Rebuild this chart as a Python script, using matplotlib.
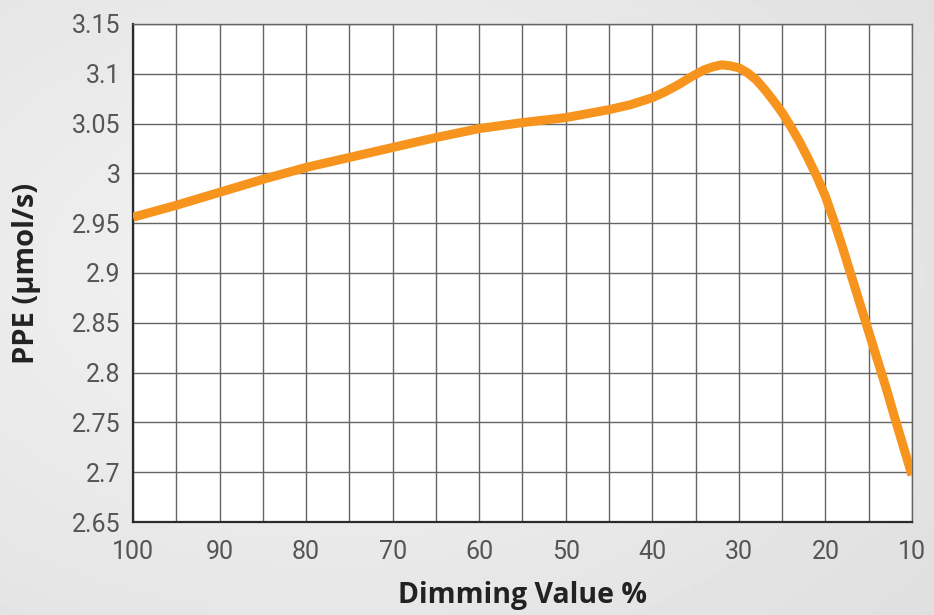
import numpy as np
import matplotlib
matplotlib.use("Agg")
import matplotlib.pyplot as plt

# values (dimming %, PPE)
dimming = [100, 95, 90, 85, 80, 75, 70, 65, 60, 55, 50, 45, 42.5, 40, 38.5, 37,
           35.5, 34, 33, 32, 31, 30, 29, 28, 27, 26, 25, 24, 23, 22, 21, 20,
           19, 18, 17, 16, 15, 14, 13, 12, 11, 10]
ppe = [2.956, 2.968, 2.981, 2.994, 3.006, 3.016, 3.026, 3.036, 3.045, 3.051,
       3.056, 3.064, 3.069, 3.076, 3.082, 3.089, 3.097, 3.104, 3.107, 3.109,
       3.108, 3.106, 3.101, 3.094, 3.084, 3.073, 3.061, 3.047, 3.032, 3.015,
       2.997, 2.977, 2.952, 2.925, 2.897, 2.869, 2.841, 2.813, 2.785, 2.755,
       2.726, 2.697]

x_ticks = [100, 90, 80, 70, 60, 50, 40, 30, 20, 10]
y_ticks = [2.65, 2.7, 2.75, 2.8, 2.85, 2.9, 2.95, 3, 3.05, 3.1, 3.15]
y_labels = ["2.65", "2.7", "2.75", "2.8", "2.85", "2.9", "2.95", "3", "3.05", "3.1", "3.15"]

fig = plt.figure(figsize=(9.34, 6.15), dpi=100)

# soft grey background
bg = fig.add_axes([0, 0, 1, 1], zorder=-10)
gx, gy = np.meshgrid(np.linspace(0, 1, 200), np.linspace(0, 1, 140))
r = np.sqrt(((gx - 0.35) / 0.9) ** 2 + ((gy - 0.45) / 0.9) ** 2)
shade = 0.955 - 0.085 * np.clip(r, 0, 1)
bg.imshow(shade, cmap="gray", vmin=0, vmax=1, aspect="auto", extent=[0, 1, 0, 1])
bg.axis("off")

ax = fig.add_axes([0.1424, 0.1512, 0.834, 0.8098])
ax.set_facecolor("white")
ax.plot(dimming, ppe, color="#f7941d", linewidth=6.5, solid_capstyle="butt",
        solid_joinstyle="round", zorder=5)

ax.set_xlim(100, 10)
ax.set_ylim(2.65, 3.15)
ax.set_xticks(x_ticks)
ax.set_xticks(np.arange(95, 10, -10), minor=True)
ax.set_yticks(y_ticks)
ax.set_yticklabels(y_labels)
ax.grid(True, which="both", color="#646464", linewidth=1.0)
ax.set_axisbelow(True)
ax.tick_params(which="both", length=0)
ax.tick_params(axis="x", pad=13)
ax.tick_params(axis="y", pad=9)
for lab in ax.get_xticklabels() + ax.get_yticklabels():
    lab.set_fontfamily("Roboto")
    lab.set_fontsize(18)
    lab.set_color("#555555")

for side in ["top", "right"]:
    ax.spines[side].set_color("#646464")
    ax.spines[side].set_linewidth(1.0)
for side in ["left", "bottom"]:
    ax.spines[side].set_color("#2b2b2b")
    ax.spines[side].set_linewidth(1.6)

ax.set_xlabel("Dimming Value %", fontfamily="Open Sans", fontweight="bold",
              fontsize=20.5, color="#222222", labelpad=12)
ax.set_ylabel("PPE (µmol/s)", fontfamily="Open Sans", fontweight="bold",
              fontsize=21, color="#222222", labelpad=22)

fig.savefig("out.png", dpi=100)
